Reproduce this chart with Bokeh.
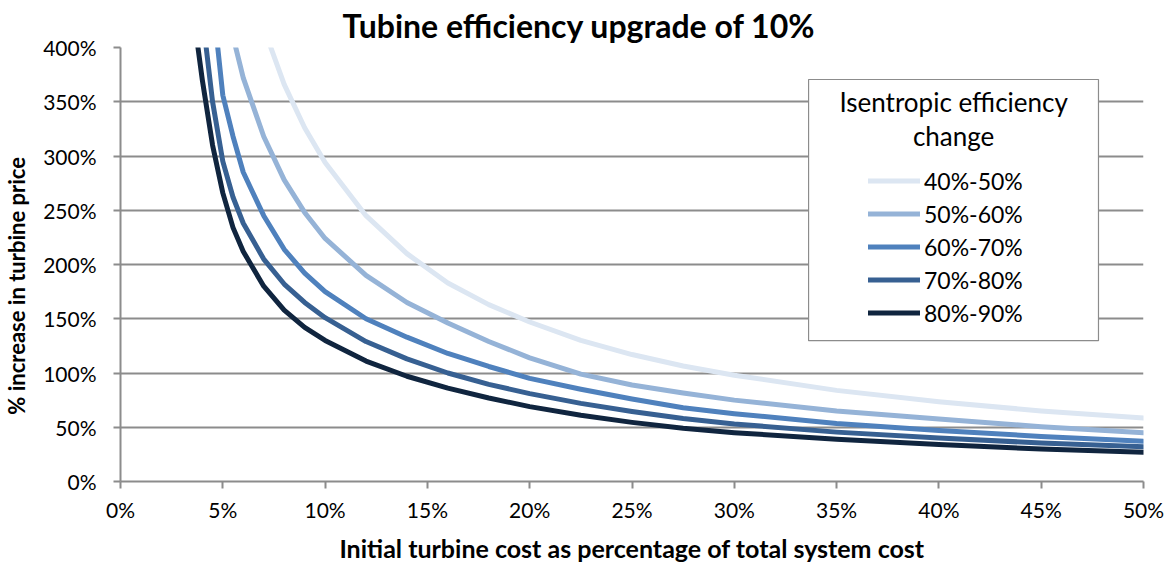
from bokeh.plotting import figure
from bokeh.models import (Range1d, PrintfTickFormatter, FixedTicker, Legend, LegendItem,
                          BoxAnnotation, Label)
from bokeh.embed import file_html
from bokeh.resources import INLINE

# ---- data (percent units) ----
series_names = ["40%-50%", "50%-60%", "60%-70%", "70%-80%", "80%-90%"]
colors = ["#DCE6F2", "#95B3D7", "#4F81BD", "#376092", "#10253F"]

x_40_50 = [6.5, 7, 8, 9, 10, 12, 14, 16, 18, 20, 22.5, 25, 27.5, 30, 35, 40, 45, 50]
y_40_50 = [450, 418, 366, 326, 294, 245, 210, 183, 163, 147, 130, 117, 106.5, 98, 84, 73.5, 65, 58.5]

x_50_60 = [5, 5.5, 6, 7, 8, 9, 10, 12, 14, 16, 18, 20, 22.5, 25, 27.5, 30, 35, 40, 45, 50]
y_50_60 = [470, 410, 372, 318, 278, 248, 224, 190, 165, 146, 129, 114, 99, 89, 81.5, 75, 65, 57.5, 50.5, 45]

x_60_70 = [4.25, 4.5, 5, 5.5, 6, 7, 8, 9, 10, 12, 14, 16, 18, 20, 22.5, 25, 27.5, 30, 35, 40, 45, 50]
y_60_70 = [490, 445, 356, 318, 285, 245, 214, 192, 175, 150, 133, 118, 106, 95, 85, 76, 68, 62.5, 53.5, 47, 41.5, 37]

x_70_80 = [3.75, 4, 4.5, 5, 5.5, 6, 7, 8, 9, 10, 12, 14, 16, 18, 20, 22.5, 25, 27.5, 30, 35, 40, 45, 50]
y_70_80 = [480, 430, 350, 295, 262, 238, 205, 182, 165, 151, 129, 113, 100, 89.5, 81, 72, 64.5, 58, 53, 45.5, 40, 35.5, 32]

x_80_90 = [3.5, 4, 4.5, 5, 5.5, 6, 7, 8, 9, 10, 12, 14, 16, 18, 20, 22.5, 25, 27.5, 30, 35, 40, 45, 50]
y_80_90 = [440, 370, 310, 266, 234, 212, 180, 158, 142, 130, 111, 97, 86, 77, 69, 61, 54.5, 49, 45, 39, 34, 30, 27]

x_ticks = [0, 5, 10, 15, 20, 25, 30, 35, 40, 45, 50]
y_ticks = [0, 50, 100, 150, 200, 250, 300, 350, 400]

FONT = "Lato"
GRAY = "#8C8C8C"

p = figure(frame_width=1023, frame_height=434,
           min_border_left=120, min_border_top=47, min_border_right=28, min_border_bottom=75,
           x_range=Range1d(0, 50), y_range=Range1d(0, 400),
           output_backend="svg", toolbar_location=None,
           title="Tubine efficiency upgrade of 10%")
p.outline_line_color = None
p.background_fill_color = "white"
p.border_fill_color = "white"

p.title.text_font = FONT
p.title.text_font_size = "32px"
p.title.text_font_style = "bold"
p.title.text_color = "black"
p.title.align = "left"
p.title.offset = 222
p.title.standoff = 6

# axes
p.xaxis.ticker = FixedTicker(ticks=x_ticks)
p.yaxis.ticker = FixedTicker(ticks=y_ticks)
p.xaxis.formatter = PrintfTickFormatter(format="%d%%")
p.yaxis.formatter = PrintfTickFormatter(format="%d%%")
for ax in (p.xaxis, p.yaxis):
    ax.axis_line_color = GRAY
    ax.axis_line_width = 2
    ax.major_tick_line_color = GRAY
    ax.major_tick_line_width = 2
    ax.major_tick_out = 7
    ax.major_tick_in = 0
    ax.minor_tick_line_color = None
    ax.major_label_text_font = FONT
    ax.major_label_text_font_size = "21px"
    ax.major_label_text_color = "black"
    ax.axis_label_text_font = FONT
    ax.axis_label_text_font_style = "bold"
    ax.axis_label_text_color = "black"
p.xaxis.axis_label_text_font_size = "25px"
p.yaxis.axis_label_text_font_size = "22px"
p.xaxis.major_label_standoff = 8
p.yaxis.major_label_standoff = 17
p.xaxis.axis_label = "Initial turbine cost as percentage of total system cost"
# trailing no-break spaces nudge the rotated title down to the frame's centre
p.yaxis.axis_label = "% increase in turbine price" + "\u00a0" * 8
p.xaxis.axis_label_standoff = 8
p.yaxis.axis_label_standoff = 10

p.xgrid.grid_line_color = None
p.ygrid.grid_line_color = GRAY
p.ygrid.grid_line_width = 2

xs = [x_40_50, x_50_60, x_60_70, x_70_80, x_80_90]
ys = [y_40_50, y_50_60, y_60_70, y_70_80, y_80_90]
renderers = []
for xv, yv, c in zip(xs, ys, colors):
    r = p.line(xv, yv, line_color=c, line_width=5, line_cap="round", line_join="round")
    renderers.append(r)

# legend box (decoration)
box = BoxAnnotation(left=33.63, right=47.8, bottom=129.8, top=370.5,
                    fill_color="white", fill_alpha=1.0,
                    line_color=GRAY, line_width=1.2, line_alpha=1.0)
p.add_layout(box)
p.add_layout(Label(x=40.72, y=349.5, text="Isentropic efficiency", text_align="center",
                   text_baseline="middle", text_font=FONT, text_font_size="26px", text_color="black"))
p.add_layout(Label(x=40.72, y=318.8, text="change", text_align="center",
                   text_baseline="middle", text_font=FONT, text_font_size="26px", text_color="black"))

items = [LegendItem(label=n, renderers=[r]) for n, r in zip(series_names, renderers)]
legend = Legend(items=items, location=(748, 152),
                border_line_color=None, background_fill_alpha=0,
                padding=0, margin=0, spacing=0,
                glyph_width=52, glyph_height=33, label_height=33, label_standoff=4,
                label_text_font=FONT, label_text_font_size="23px", label_text_color="black")
p.add_layout(legend)

open("out.html", "w").write(file_html(p, INLINE))
